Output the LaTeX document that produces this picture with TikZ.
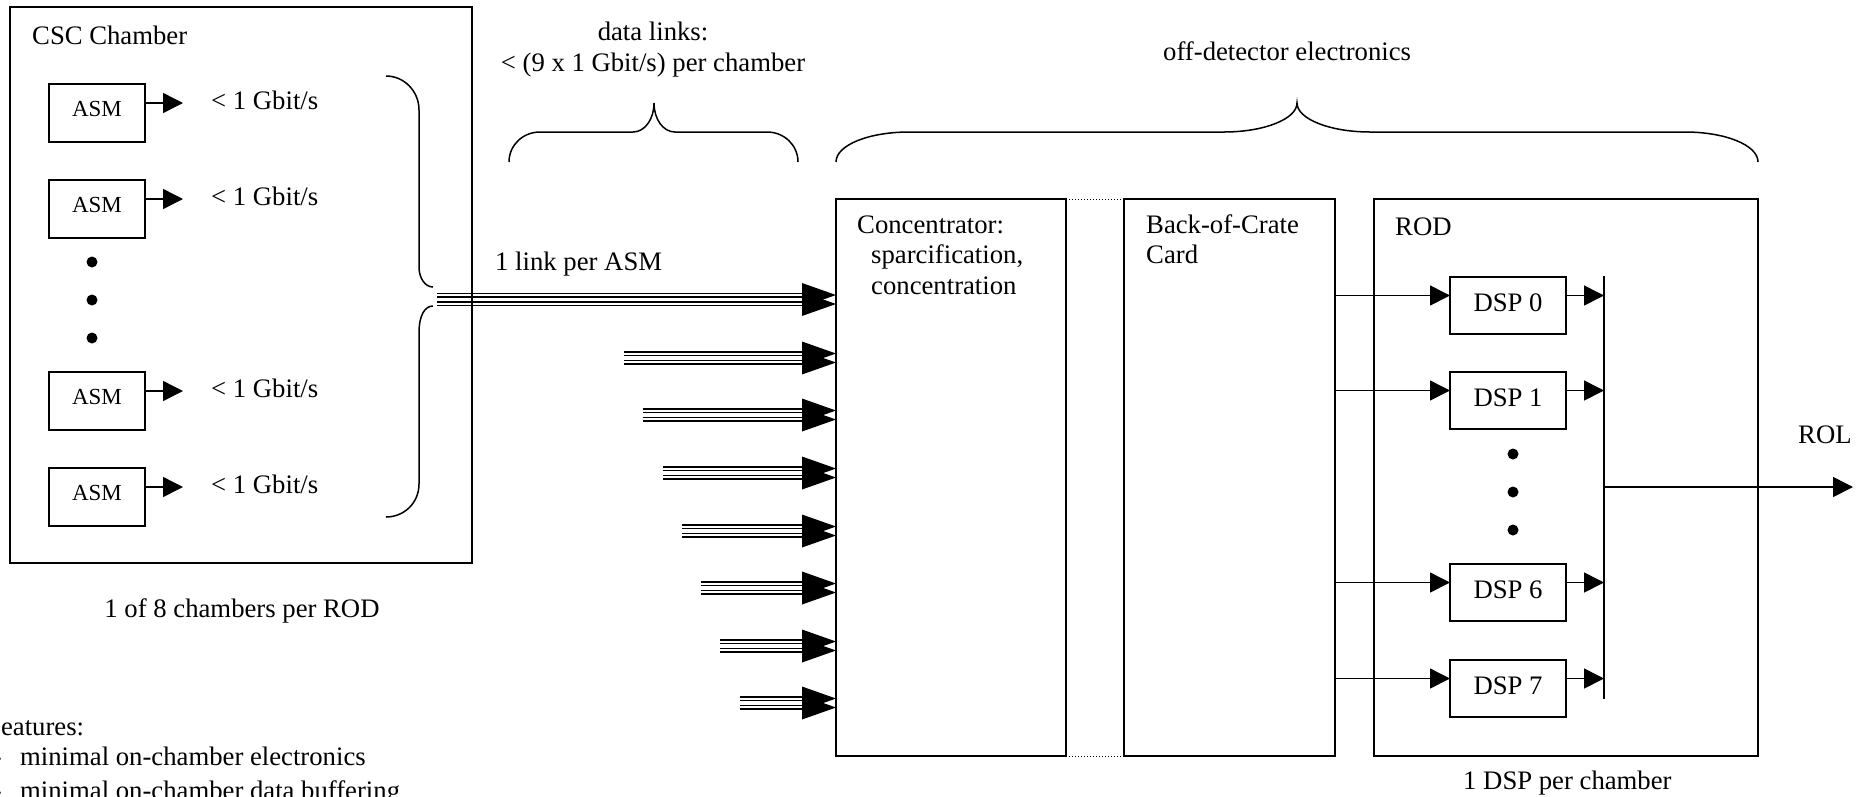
\documentclass[tikz,border=0pt]{standalone}
\usepackage{fontspec}
\setmainfont{Liberation Serif}
\usetikzlibrary{arrows.meta,calc}
\newcommand\fsz{\fontsize{26.7}{30}\selectfont}
\newcommand\fsasm{\fontsize{23}{26}\selectfont}
\begin{document}
\begin{tikzpicture}[x=1pt,y=-1pt,
  box/.style={draw, line width=1.5pt, inner sep=0pt, outer sep=0pt, anchor=north west},
  txt/.style={font=\fsz, inner sep=0pt, anchor=base west},
  ctxt/.style={font=\fsz, inner sep=0pt, anchor=base},
  asmtxt/.style={font=\fsasm, inner sep=0pt, anchor=base},
  arr/.style={line width=1.5pt, -{Triangle[length=20pt,width=20pt]}},
  brace/.style={line width=1.5pt},
  link/.style={line width=1.1pt},
  bus/.style={line width=1.5pt},
]
\fill[white] (0,0) rectangle (1867,796);
\useasboundingbox (0,0) rectangle (1867,796);
\clip (0,0) rectangle (1867,796);

% ---------------- CSC chamber ----------------
\node[box, minimum width=462pt, minimum height=556pt] (csc) at (10,7) {};
\node[txt] (csct) at (32,44) {CSC Chamber};

\node[box, minimum width=96pt, minimum height=58pt] (asm1) at (49,84) {};
\node[box, minimum width=96pt, minimum height=58pt] (asm2) at (49,180) {};
\node[box, minimum width=96pt, minimum height=58pt] (asm3) at (49,372) {};
\node[box, minimum width=96pt, minimum height=58pt] (asm4) at (49,468) {};
\foreach \n in {1,2,3,4}{
  \node[asmtxt] (asm\n t) at ([yshift=-3pt]asm\n.center) {ASM};
  \draw[arr] ([yshift=10pt]asm\n.east) -- ++(38,0);
}
\node[txt] (g1) at (211,109) {< 1 Gbit/s};
\node[txt] (g2) at (211,205) {< 1 Gbit/s};
\node[txt] (g3) at (211,397) {< 1 Gbit/s};
\node[txt] (g4) at (211,493) {< 1 Gbit/s};
\fill (92,262) circle (5.5pt);
\fill (92,300) circle (5.5pt);
\fill (92,338) circle (5.5pt);

% vertical brace
\draw[brace] (386,76) .. controls (404,76) and (419,91) .. (419,110)
  -- (419,267) .. controls (419,278) and (425,287) .. (433,287);
\draw[brace] (433,306) .. controls (425,306) and (419,315) .. (419,333)
  -- (419,484) .. controls (419,503) and (404,517) .. (386,517);

\node[ctxt] (csccap) at (242,617) {1 of 8 chambers per ROD};

% features
\node[txt] (feat) at (-14,735) {Features:};
\node[font=\fsz, inner sep=0pt, anchor=base east] (dash1) at (2,765) {-};
\node[font=\fsz, inner sep=0pt, anchor=base east] (dash2) at (2,799) {-};
\node[txt] (feat1) at (20,765) {minimal on-chamber electronics};
\node[txt] (feat2) at (20,799) {minimal on-chamber data buffering};

% ---------------- data links ----------------
\node[ctxt] (dl1) at (653,40) {data links:};
\node[ctxt] (dl2) at (653,71) {< (9 x 1 Gbit/s) per chamber};
\draw[brace] (509,162) .. controls (509,145) and (523,132) .. (540,132)
  -- (633,132) .. controls (645,132) and (654,119) .. (654,103)
  .. controls (654,119) and (663,132) .. (675,132)
  -- (767,132) .. controls (784,132) and (798,145) .. (798,162);
\node[txt] (lpa) at (495,270) {1 link per ASM};

% ---------------- off-detector ----------------
\node[txt] (offd) at (1163,60) {off-detector electronics};
\draw[brace] (836,162) .. controls (836,145) and (869,132) .. (909,132)
  -- (1224,132) .. controls (1264,132) and (1297,119) .. (1297,103)
  .. controls (1297,119) and (1330,132) .. (1370,132)
  -- (1685,132) .. controls (1725,132) and (1758,145) .. (1758,162);

\node[box, minimum width=230pt, minimum height=557pt] (conc) at (836,199) {};
\node[box, minimum width=211pt, minimum height=557pt] (boc) at (1124,199) {};
\node[box, minimum width=384pt, minimum height=557pt] (rod) at (1374,199) {};
\draw[dotted, line width=1pt] (conc.north east) -- (boc.north west);
\draw[dotted, line width=1pt] (conc.south east) -- (boc.south west);

\node[txt] (c1) at (857,233) {Concentrator:};
\node[txt] (c2) at (871,263) {sparcification,};
\node[txt] (c3) at (871,294) {concentration};
\node[txt] (b1) at (1146,233) {Back-of-Crate};
\node[txt] (b2) at (1146,263) {Card};
\node[txt] (rodt) at (1395,235) {ROD};

% multi-line links into concentrator
\foreach \c/\s in {299.5/437, 358/624, 415/643, 473/663, 531/682, 588/701, 646/720, 703/740}{
  \coordinate (tip) at ([yshift={(199-\c)*1pt}]conc.north west);
  \foreach \o in {-6,-2.5,2.5,6}{
    \draw[link] ($(tip)+({\s-836},\o)$) -- ($(tip)+(-20,\o)$);
  }
  \fill ($(tip)+(0,-4.5)$) -- ++(-34,-12) -- ++(0,24) -- cycle;
  \fill ($(tip)+(0,4.5)$) -- ++(-34,-12) -- ++(0,24) -- cycle;
}

% ---------------- ROD ----------------
\node[box, minimum width=116pt, minimum height=57pt] (dsp0) at (1450,277) {};
\node[box, minimum width=116pt, minimum height=57pt] (dsp1) at (1450,372) {};
\node[box, minimum width=116pt, minimum height=57pt] (dsp6) at (1450,564) {};
\node[box, minimum width=116pt, minimum height=57pt] (dsp7) at (1450,660) {};
\coordinate (busT) at (1604,276);
\coordinate (busB) at (1604,699);
\draw[bus] (busT) -- (busB);
\foreach \n in {0,1,6,7}{
  \node[ctxt] (dsp\n t) at ([yshift=-6pt]dsp\n.center) {DSP \n};
  \coordinate (in\n) at ([yshift=10pt]dsp\n.west);
  \coordinate (out\n) at ([yshift=10pt]dsp\n.east);
  \draw[arr] (boc.east |- in\n) -- (in\n);
  \draw[arr] (out\n) -- (out\n -| busT);
}
\fill (1513,454) circle (5.5pt);
\fill (1513,492) circle (5.5pt);
\fill (1513,530) circle (5.5pt);

\coordinate (rolS) at (1604,487);
\coordinate (rolE) at (1853,487);
\draw[arr] (rolS) -- (rolE);
\node[txt] (rolt) at (1798,443) {ROL};
\node[txt] (dspcap) at (1463,789) {1 DSP per chamber};
\end{tikzpicture}
\end{document}
